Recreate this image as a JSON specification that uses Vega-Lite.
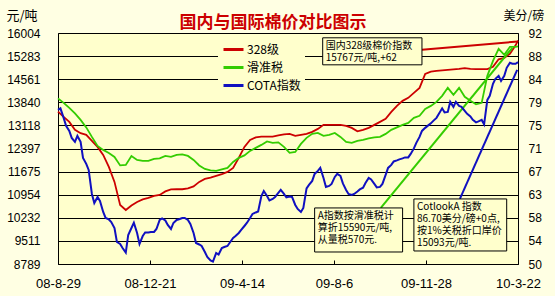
{
 "$schema": "https://vega.github.io/schema/vega-lite/v6.json",
 "width": 460, "height": 231,
 "autosize": {"type": "none"},
 "padding": {"left": 58, "top": 33, "right": 37, "bottom": 32},
 "background": "#FFFFE3",
 "config": {
  "view": {"fill": "#FFFFCC", "stroke": "#000000", "strokeWidth": 1},
  "font": "Liberation Sans",
  "axis": {"labelOverlap": false},
  "legend": {"orient": "none", "legendX": 160, "legendY": 1, "padding": 4, "fillColor": "#FFFFCC",
   "symbolType": "stroke", "symbolSize": 400, "symbolStrokeWidth": 3, "labelFont": "Noto Sans CJK SC",
   "labelFontSize": 12, "labelColor": "#000000", "labelOffset": 2, "rowPadding": -3.5}
 },
 "title": {"text": "国内与国际棉价对比图示", "color": "#CC0000", "fontSize": 17, "fontWeight": "bold",
  "font": "Noto Sans CJK SC", "anchor": "middle", "frame": "group", "offset": 0, "baseline": "middle", "dx": -15, "dy": 31},
 "datasets": {
  "domestic": [
   {"date":"2008-08-29","328级":13550,"滑准税":13963},
   {"date":"2008-09-05","328级":13384,"滑准税":13822},
   {"date":"2008-09-12","328级":13228,"滑准税":13666},
   {"date":"2008-09-19","328级":12978,"滑准税":13494},
   {"date":"2008-09-26","328级":12875,"滑准税":13291},
   {"date":"2008-10-03","328级":12822,"滑准税":13056},
   {"date":"2008-10-10","328级":12634,"滑准税":12759},
   {"date":"2008-10-17","328级":12447,"滑准税":12478},
   {"date":"2008-10-24","328级":12197,"滑准税":12353},
   {"date":"2008-10-31","328级":11821,"滑准税":12259},
   {"date":"2008-11-07","328级":11353,"滑准税":12134},
   {"date":"2008-11-14","328级":10634,"滑准税":11868},
   {"date":"2008-11-21","328级":10477,"滑准税":11884},
   {"date":"2008-11-28","328级":10618,"滑准税":12165},
   {"date":"2008-12-05","328级":10727,"滑准税":12040},
   {"date":"2008-12-12","328级":10806,"滑准税":12009},
   {"date":"2008-12-19","328级":10852,"滑准税":12009},
   {"date":"2008-12-26","328级":10915,"滑准税":12072},
   {"date":"2009-01-02","328级":10946,"滑准税":12087},
   {"date":"2009-01-09","328级":11056,"滑准税":12165},
   {"date":"2009-01-16","328级":11118,"滑准税":12134},
   {"date":"2009-01-23","328级":11124,"滑准税":12197},
   {"date":"2009-01-30","328级":11124,"滑准税":12212},
   {"date":"2009-02-06","328级":11149,"滑准税":12165},
   {"date":"2009-02-13","328级":11212,"滑准税":12040},
   {"date":"2009-02-20","328级":11353,"滑准税":11868},
   {"date":"2009-02-27","328级":11446,"滑准税":11759},
   {"date":"2009-03-06","328级":11487,"滑准税":11712},
   {"date":"2009-03-13","328级":11540,"滑准税":11696},
   {"date":"2009-03-20","328级":11593,"滑准税":11743},
   {"date":"2009-03-27","328级":11665,"滑准税":11790},
   {"date":"2009-04-03","328级":11790,"滑准税":11978},
   {"date":"2009-04-10","328级":12103,"滑准税":12103},
   {"date":"2009-04-17","328级":12447,"滑准税":12181},
   {"date":"2009-04-24","328级":12665,"滑准税":12322},
   {"date":"2009-05-01","328级":12744,"滑准税":12415},
   {"date":"2009-05-08","328级":12769,"滑准税":12509},
   {"date":"2009-05-15","328级":12769,"滑准税":12619},
   {"date":"2009-05-22","328级":12769,"滑准税":12572},
   {"date":"2009-05-29","328级":12806,"滑准税":12587},
   {"date":"2009-06-05","328级":12837,"滑准税":12447},
   {"date":"2009-06-12","328级":12853,"滑准税":12259},
   {"date":"2009-06-19","328级":12790,"滑准税":12290},
   {"date":"2009-06-26","328级":12822,"滑准税":12540},
   {"date":"2009-07-03","328级":12853,"滑准税":12728},
   {"date":"2009-07-10","328级":12915,"滑准税":12853},
   {"date":"2009-07-17","328级":13009,"滑准税":12884},
   {"date":"2009-07-24","328级":13134,"滑准税":12790},
   {"date":"2009-07-31","328级":13134,"滑准税":12822},
   {"date":"2009-08-07","328级":13134,"滑准税":12884},
   {"date":"2009-08-14","328级":13134,"滑准税":12759},
   {"date":"2009-08-21","328级":13103,"滑准税":12603},
   {"date":"2009-08-28","328级":13041,"滑准税":12572},
   {"date":"2009-09-04","328级":12931,"滑准税":12634},
   {"date":"2009-09-11","328级":12978,"滑准税":12665},
   {"date":"2009-09-18","328级":13041,"滑准税":12712},
   {"date":"2009-09-25","328级":13134,"滑准税":12744},
   {"date":"2009-10-02","328级":13228,"滑准税":12759},
   {"date":"2009-10-09","328级":13322,"滑准税":12853},
   {"date":"2009-10-16","328级":13541,"滑准税":12978},
   {"date":"2009-10-23","328级":13728,"滑准税":13056},
   {"date":"2009-10-30","328级":13885,"滑准税":13134},
   {"date":"2009-11-06","328级":13978,"滑准税":13197},
   {"date":"2009-11-13","328级":14135,"滑准税":13353},
   {"date":"2009-11-20","328级":14291,"滑准税":13416},
   {"date":"2009-11-27","328级":14729,"滑准税":13634},
   {"date":"2009-12-04","328级":14800,"滑准税":13728},
   {"date":"2009-12-11","328级":14822,"滑准税":13853},
   {"date":"2009-12-18","328级":14838,"滑准税":14041},
   {"date":"2009-12-25","328级":14854,"滑准税":14291},
   {"date":"2010-01-01","328级":14869,"滑准税":14072},
   {"date":"2010-01-08","328级":14885,"滑准税":14291},
   {"date":"2010-01-15","328级":14907,"滑准税":14010},
   {"date":"2010-01-22","328级":14885,"滑准税":13885},
   {"date":"2010-01-29","328级":14876,"滑准税":13775},
   {"date":"2010-02-05","328级":14876,"滑准税":13822},
   {"date":"2010-02-12","328级":14876,"滑准税":14666},
   {"date":"2010-02-19","328级":14947,"滑准税":15135},
   {"date":"2010-02-26","328级":15182,"滑准税":15510},
   {"date":"2010-03-05","328级":15229,"滑准税":15323},
   {"date":"2010-03-12","328级":15354,"滑准税":15573},
   {"date":"2010-03-19","328级":15619,"滑准税":15573},
   {"date":"2010-03-22","328级":15767,"滑准税":15590}
  ],
  "cota": [
   {"date":"2008-08-29","COTA指数":78.02},{"date":"2008-09-01","COTA指数":78.30},
   {"date":"2008-09-05","COTA指数":76.57},{"date":"2008-09-08","COTA指数":75.11},
   {"date":"2008-09-12","COTA指数":74.20},{"date":"2008-09-15","COTA指数":72.93},
   {"date":"2008-09-19","COTA指数":72.20},{"date":"2008-09-22","COTA指数":73.29},
   {"date":"2008-09-26","COTA指数":72.20},{"date":"2008-09-29","COTA指数":69.29},
   {"date":"2008-10-03","COTA指数":68.20},{"date":"2008-10-06","COTA指数":67.11},
   {"date":"2008-10-10","COTA指数":62.74},{"date":"2008-10-13","COTA指数":61.10},
   {"date":"2008-10-17","COTA指数":62.19},{"date":"2008-10-20","COTA指数":61.46},
   {"date":"2008-10-24","COTA指数":59.46},{"date":"2008-10-27","COTA指数":58.37},
   {"date":"2008-10-31","COTA指数":58.10},{"date":"2008-11-03","COTA指数":57.64},
   {"date":"2008-11-07","COTA指数":56.55},{"date":"2008-11-10","COTA指数":54.00},
   {"date":"2008-11-14","COTA指数":53.64},{"date":"2008-11-17","COTA指数":52.91},
   {"date":"2008-11-21","COTA指数":52.06},{"date":"2008-11-24","COTA指数":55.28},
   {"date":"2008-11-28","COTA指数":56.55},{"date":"2008-12-01","COTA指数":57.51},
   {"date":"2008-12-05","COTA指数":55.64},{"date":"2008-12-08","COTA指数":53.64},
   {"date":"2008-12-12","COTA指数":55.09},{"date":"2008-12-15","COTA指数":55.73},
   {"date":"2008-12-19","COTA指数":55.73},{"date":"2008-12-22","COTA指数":55.82},
   {"date":"2008-12-26","COTA指数":55.82},{"date":"2008-12-29","COTA指数":56.37},
   {"date":"2009-01-02","COTA指数":58.01},{"date":"2009-01-05","COTA指数":58.28},
   {"date":"2009-01-09","COTA指数":57.92},{"date":"2009-01-12","COTA指数":57.10},
   {"date":"2009-01-16","COTA指数":56.37},{"date":"2009-01-19","COTA指数":57.46},
   {"date":"2009-01-23","COTA指数":58.01},{"date":"2009-01-26","COTA指数":58.13},
   {"date":"2009-01-30","COTA指数":58.37},{"date":"2009-02-02","COTA指数":58.37},
   {"date":"2009-02-06","COTA指数":58.01},{"date":"2009-02-09","COTA指数":57.28},
   {"date":"2009-02-13","COTA指数":55.64},{"date":"2009-02-16","COTA指数":53.82},
   {"date":"2009-02-20","COTA指数":53.55},{"date":"2009-02-23","COTA指数":53.27},
   {"date":"2009-02-27","COTA指数":52.18},{"date":"2009-03-02","COTA指数":51.27},
   {"date":"2009-03-06","COTA指数":50.64},{"date":"2009-03-09","COTA指数":50.42},
   {"date":"2009-03-13","COTA指数":52.00},{"date":"2009-03-16","COTA指数":51.73},
   {"date":"2009-03-20","COTA指数":52.91},{"date":"2009-03-23","COTA指数":53.09},
   {"date":"2009-03-27","COTA指数":53.27},{"date":"2009-03-30","COTA指数":53.91},
   {"date":"2009-04-03","COTA指数":54.73},{"date":"2009-04-06","COTA指数":55.09},
   {"date":"2009-04-10","COTA指数":55.64},{"date":"2009-04-13","COTA指数":56.19},
   {"date":"2009-04-17","COTA指数":56.91},{"date":"2009-04-20","COTA指数":57.46},
   {"date":"2009-04-24","COTA指数":58.37},{"date":"2009-04-27","COTA指数":59.10},
   {"date":"2009-05-01","COTA指数":59.37},{"date":"2009-05-04","COTA指数":59.55},
   {"date":"2009-05-08","COTA指数":62.37},{"date":"2009-05-11","COTA指数":63.28},
   {"date":"2009-05-15","COTA指数":62.37},{"date":"2009-05-18","COTA指数":61.55},
   {"date":"2009-05-22","COTA指数":61.83},{"date":"2009-05-25","COTA指数":62.19},
   {"date":"2009-05-29","COTA指数":62.92},{"date":"2009-06-01","COTA指数":63.47},
   {"date":"2009-06-05","COTA指数":62.74},{"date":"2009-06-08","COTA指数":62.10},
   {"date":"2009-06-12","COTA指数":62.28},{"date":"2009-06-15","COTA指数":62.19},
   {"date":"2009-06-19","COTA指数":60.74},{"date":"2009-06-22","COTA指数":60.01},
   {"date":"2009-06-26","COTA指数":59.46},{"date":"2009-06-29","COTA指数":60.19},
   {"date":"2009-07-03","COTA指数":63.74},{"date":"2009-07-06","COTA指数":64.38},
   {"date":"2009-07-10","COTA指数":65.10},{"date":"2009-07-13","COTA指数":66.38},
   {"date":"2009-07-17","COTA指数":66.92},{"date":"2009-07-20","COTA指数":67.47},
   {"date":"2009-07-24","COTA指数":65.65},{"date":"2009-07-27","COTA指数":64.01},
   {"date":"2009-07-31","COTA指数":64.19},{"date":"2009-08-03","COTA指数":64.56},
   {"date":"2009-08-07","COTA指数":65.83},{"date":"2009-08-10","COTA指数":66.38},
   {"date":"2009-08-14","COTA指数":66.01},{"date":"2009-08-17","COTA指数":64.65},
   {"date":"2009-08-21","COTA指数":63.47},{"date":"2009-08-24","COTA指数":62.74},
   {"date":"2009-08-28","COTA指数":62.56},{"date":"2009-08-31","COTA指数":62.74},
   {"date":"2009-09-04","COTA指数":63.19},{"date":"2009-09-07","COTA指数":63.56},
   {"date":"2009-09-11","COTA指数":63.88},{"date":"2009-09-14","COTA指数":64.74},
   {"date":"2009-09-18","COTA指数":65.65},{"date":"2009-09-21","COTA指数":65.38},
   {"date":"2009-09-25","COTA指数":64.56},{"date":"2009-09-28","COTA指数":63.92},
   {"date":"2009-10-02","COTA指数":64.01},{"date":"2009-10-05","COTA指数":64.56},
   {"date":"2009-10-09","COTA指数":66.20},{"date":"2009-10-12","COTA指数":67.47},
   {"date":"2009-10-16","COTA指数":68.02},{"date":"2009-10-19","COTA指数":68.65},
   {"date":"2009-10-23","COTA指数":68.83},{"date":"2009-10-26","COTA指数":69.02},
   {"date":"2009-10-30","COTA指数":69.20},{"date":"2009-11-02","COTA指数":69.38},
   {"date":"2009-11-06","COTA指数":69.38},{"date":"2009-11-09","COTA指数":70.02},
   {"date":"2009-11-13","COTA指数":71.02},{"date":"2009-11-16","COTA指数":72.02},
   {"date":"2009-11-20","COTA指数":73.11},{"date":"2009-11-23","COTA指数":74.20},
   {"date":"2009-11-27","COTA指数":74.75},{"date":"2009-11-30","COTA指数":75.11},
   {"date":"2009-12-04","COTA指数":75.57},{"date":"2009-12-07","COTA指数":76.02},
   {"date":"2009-12-11","COTA指数":76.57},{"date":"2009-12-14","COTA指数":77.30},
   {"date":"2009-12-18","COTA指数":78.30},{"date":"2009-12-21","COTA指数":77.57},
   {"date":"2009-12-25","COTA指数":77.66},{"date":"2009-12-28","COTA指数":79.48},
   {"date":"2010-01-01","COTA指数":78.57},{"date":"2010-01-04","COTA指数":79.48},
   {"date":"2010-01-08","COTA指数":78.75},{"date":"2010-01-11","COTA指数":78.57},
   {"date":"2010-01-15","COTA指数":77.84},{"date":"2010-01-18","COTA指数":77.30},
   {"date":"2010-01-22","COTA指数":76.84},{"date":"2010-01-25","COTA指数":76.20},
   {"date":"2010-01-29","COTA指数":75.75},{"date":"2010-02-01","COTA指数":75.93},
   {"date":"2010-02-05","COTA指数":76.20},{"date":"2010-02-08","COTA指数":75.39},
   {"date":"2010-02-12","COTA指数":79.84},{"date":"2010-02-15","COTA指数":80.57},
   {"date":"2010-02-19","COTA指数":82.76},{"date":"2010-02-22","COTA指数":83.67},
   {"date":"2010-02-26","COTA指数":84.21},{"date":"2010-03-01","COTA指数":83.30},
   {"date":"2010-03-05","COTA指数":84.21},{"date":"2010-03-08","COTA指数":85.67},
   {"date":"2010-03-12","COTA指数":86.58},{"date":"2010-03-15","COTA指数":86.40},
   {"date":"2010-03-19","COTA指数":86.40},{"date":"2010-03-22","COTA指数":86.70}
  ],
  "leaders": [
   {"series":"328级","from":"2009-11-23","to":"2010-03-22","v1":15479,"v2":15740},
   {"series":"滑准税","from":"2009-10-03","to":"2010-03-15","v1":10540,"v2":15541},
   {"series":"COTA指数","from":"2010-01-09","to":"2010-03-21","v1":10821,"v2":14854}
  ],
  "notes": [
   {"label":"国内328级棉价指数\n15767元/吨,+62","start":"2009-07-23","end":"2009-11-23","top":15854,"bottom":15010},
   {"label":"A指数按滑准税计\n算折15590元/吨,\n从量税570元.","start":"2009-07-13","end":"2009-10-30","top":10540,"bottom":9164},
   {"label":"CotlookA 指数\n86.70美分/磅+0点,\n按1%关税折口岸价\n15093元/吨.","start":"2009-11-13","end":"2010-03-08","top":10821,"bottom":9196}
  ]
 },
 "layer": [
  {
   "layer": [
    {
     "data": {"name": "domestic"},
     "transform": [{"fold": ["328级", "滑准税"], "as": ["series", "value"]}],
     "mark": {"type": "line", "strokeWidth": 1.8},
     "encoding": {
      "x": {"field": "date", "type": "temporal",
       "scale": {"type": "utc", "domain": [{"year": 2008, "month": 8, "date": 29, "utc": true}, {"year": 2010, "month": 3, "date": 22, "utc": true}]},
       "axis": {"title": null, "values": [
         {"year": 2008, "month": 8, "date": 29, "utc": true},
         {"year": 2008, "month": 12, "date": 21, "utc": true},
         {"year": 2009, "month": 4, "date": 14, "utc": true},
         {"year": 2009, "month": 8, "date": 6, "utc": true},
         {"year": 2009, "month": 11, "date": 28, "utc": true},
         {"year": 2010, "month": 3, "date": 22, "utc": true}],
        "tickCount": 20,
        "labelExpr": "utcFormat(datum.value, '%y-%-m-%-d')", "grid": false, "domain": false,
        "ticks": true, "tickSize": -4, "tickColor": "#000000", "labelPadding": 17,
        "labelFontSize": 13, "labelColor": "#000000", "labelOverlap": false, "labelFlush": false, "labelBound": false}},
      "y": {"field": "value", "type": "quantitative",
       "scale": {"domain": [8789, 16004], "nice": false, "zero": false},
       "axis": {"values": [8789, 9510.5, 10232, 10953.5, 11675, 12396.5, 13118, 13839.5, 14561, 15282.5, 16004],
        "tickCount": 20,
        "format": "d", "grid": true, "gridColor": "#000000", "gridOpacity": 1, "gridWidth": 1, "labelOverlap": false,
        "ticks": false, "domain": false, "labelPadding": 18, "labelFontSize": 12, "labelColor": "#000000",
        "title": "元/吨", "titleAngle": 0, "titleX": -52, "titleY": -18, "titleAlign": "left", "titleBaseline": "middle",
        "titleFont": "Noto Sans CJK SC", "titleFontSize": 13, "titleFontWeight": "normal", "titleColor": "#000000"}},
      "color": {"field": "series", "type": "nominal",
       "scale": {"domain": ["328级", "滑准税", "COTA指数"], "range": ["#CC0000", "#33CC00", "#1010C0"]},
       "legend": {"title": null}}
     }
    },
    {
     "data": {"name": "leaders"},
     "mark": {"type": "rule", "strokeWidth": 2},
     "encoding": {
      "x": {"field": "from", "type": "temporal"},
      "x2": {"field": "to"},
      "y": {"field": "v1", "type": "quantitative"},
      "y2": {"field": "v2"},
      "color": {"field": "series", "type": "nominal"}
     }
    },
    {
     "data": {"name": "notes"},
     "mark": {"type": "rect", "fill": "#FFFFCC", "stroke": "#000000", "strokeWidth": 1},
     "encoding": {
      "x": {"field": "start", "type": "temporal"},
      "x2": {"field": "end"},
      "y": {"field": "top", "type": "quantitative"},
      "y2": {"field": "bottom"}
     }
    },
    {
     "data": {"name": "notes"},
     "mark": {"type": "text", "align": "left", "baseline": "top", "dx": 3, "dy": 3, "lineBreak": "\n",
      "lineHeight": 12, "font": "Noto Sans CJK SC", "fontSize": 10, "color": "#000000"},
     "encoding": {
      "x": {"field": "start", "type": "temporal"},
      "y": {"field": "top", "type": "quantitative"},
      "text": {"field": "label"}
     }
    }
   ]
  },
  {
   "data": {"name": "cota"},
   "transform": [{"fold": ["COTA指数"], "as": ["series", "value"]}],
   "mark": {"type": "line", "strokeWidth": 2},
   "encoding": {
    "x": {"field": "date", "type": "temporal",
     "axis": {"title": null, "tickCount": 20, "labelExpr": "utcFormat(datum.value, '%y-%-m-%-d')"}},
    "y": {"field": "value", "type": "quantitative",
     "scale": {"domain": [50, 92], "nice": false, "zero": false},
     "axis": {"orient": "right", "values": [50, 54.2, 58.4, 62.6, 66.8, 71, 75.2, 79.4, 83.6, 87.8, 92],
      "tickCount": 20,
      "format": "d", "grid": false, "ticks": false, "domain": false, "labelPadding": 10, "labelFontSize": 12,
      "labelOverlap": false, "labelColor": "#000000", "title": "美分/磅", "titleAngle": 0, "titleX": -15, "titleY": -18,
      "titleAlign": "left", "titleBaseline": "middle", "titleFont": "Noto Sans CJK SC", "titleFontSize": 12,
      "titleFontWeight": "normal", "titleColor": "#000000"}},
    "color": {"field": "series", "type": "nominal"}
   }
  }
 ],
 "resolve": {"scale": {"y": "independent"}}
}
